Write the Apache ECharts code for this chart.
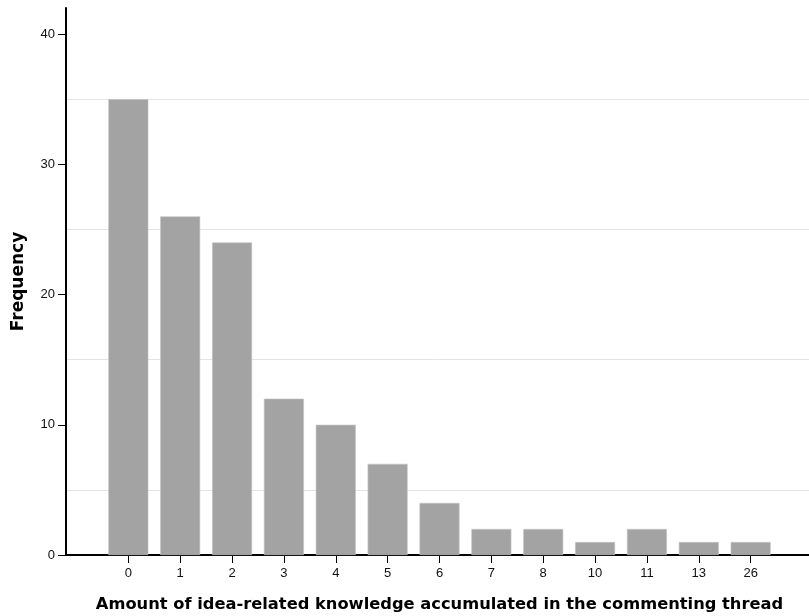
<!DOCTYPE html>
<html>
<head>
<meta charset="utf-8">
<script src="https://cdn.jsdelivr.net/npm/echarts@6/dist/echarts.min.js"></script>
<style>
  html, body { margin: 0; padding: 0; background: #fff; }
  #main { width: 809px; height: 616px; }
</style>
</head>
<body>
<div id="main"></div>
<script>
// data
var categories = ['0', '1', '2', '3', '4', '5', '6', '7', '8', '10', '11', '13', '26'];
var frequency  = [35, 26, 24, 12, 10, 7, 4, 2, 2, 1, 2, 1, 1];
var xTitle = 'Amount of idea-related knowledge accumulated in the commenting thread';
var yTitle = 'Frequency';

var myChart = echarts.init(document.getElementById('main'), null, {renderer: 'canvas'});

var option = {
    backgroundColor: '#fff',
    animation: false,
    grid: [
        // frame: axis lines + grid lines, full width
        {left: 66, right: 0, top: 8, bottom: 61, outerBoundsMode: 'none'},
        // bars
        {left: 102.4, right: 32.4, top: 8, bottom: 61, outerBoundsMode: 'none'}
    ],
    xAxis: [
        {
            gridIndex: 0,
            type: 'value',
            min: 0,
            max: 1,
            axisLine: {show: true, onZero: false, lineStyle: {color: '#000', width: 2}},
            axisTick: {show: false},
            axisLabel: {show: false},
            splitLine: {show: false}
        },
        {
            gridIndex: 1,
            type: 'category',
            data: categories,
            axisLine: {show: false},
            axisTick: {show: true, alignWithLabel: true, length: 8, lineStyle: {color: '#000', width: 1}},
            axisLabel: {color: '#111', fontSize: 13, fontFamily: 'Liberation Sans, Arial', margin: 12},
            name: xTitle,
            nameLocation: 'middle',
            nameGap: 42,
            nameTextStyle: {color: '#000', fontSize: 16.3, fontWeight: 'bold', fontFamily: 'DejaVu Sans'}
        }
    ],
    yAxis: [
        {
            gridIndex: 0,
            type: 'value',
            min: 0,
            max: 42,
            interval: 10,
            axisLine: {show: true, lineStyle: {color: '#000', width: 2}},
            axisTick: {show: true, length: 8, lineStyle: {color: '#000', width: 1}},
            axisLabel: {color: '#111', fontSize: 13, fontFamily: 'Liberation Sans, Arial', margin: 11, showMaxLabel: false},
            splitLine: {show: false},
            minorTick: {show: false, splitNumber: 2},
            minorSplitLine: {show: true, lineStyle: {color: '#e3e3e3', width: 1}},
            name: yTitle,
            nameLocation: 'middle',
            nameGap: 39,
            nameTextStyle: {color: '#000', fontSize: 17, fontWeight: 'bold', fontFamily: 'DejaVu Sans'}
        },
        {
            gridIndex: 1,
            type: 'value',
            min: 0,
            max: 42,
            show: false
        }
    ],
    series: [
        {
            name: yTitle,
            type: 'bar',
            xAxisIndex: 1,
            yAxisIndex: 1,
            barWidth: 40,
            data: frequency,
            itemStyle: {color: '#a3a3a3', borderColor: '#c4c4c4', borderWidth: 0.6}
        }
    ]
};
myChart.setOption(option);
</script>
</body>
</html>
